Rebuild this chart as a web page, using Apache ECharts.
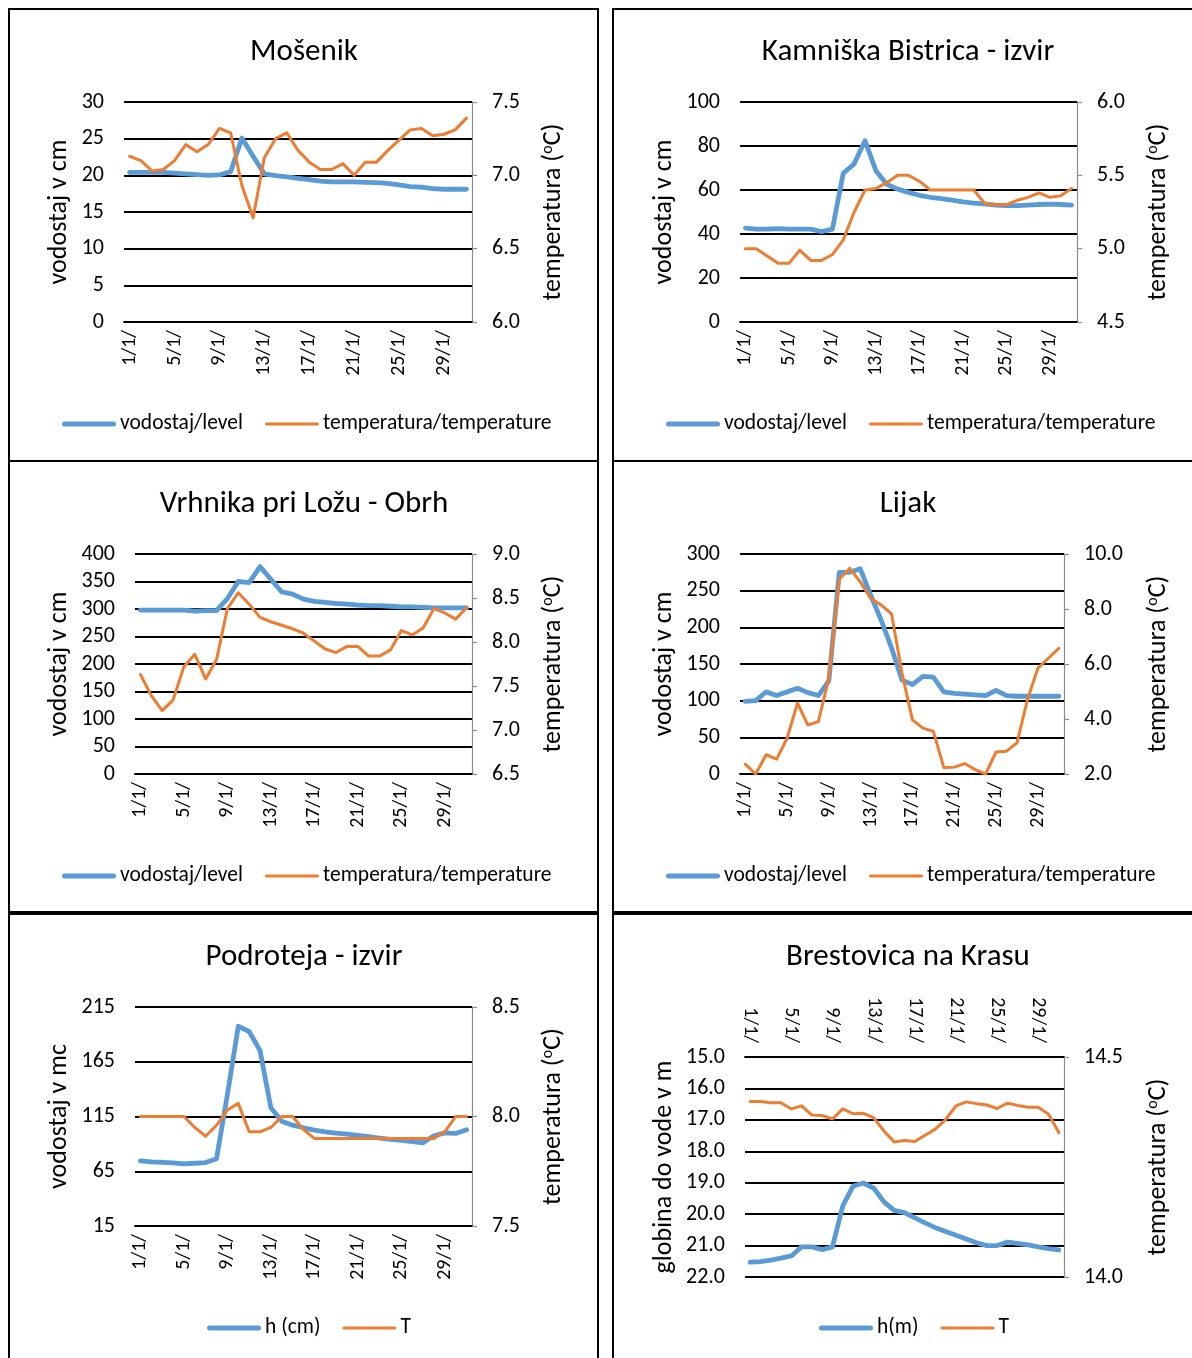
<!DOCTYPE html>
<html>
<head>
<meta charset="utf-8">
<script src="https://cdn.jsdelivr.net/npm/echarts@6/dist/echarts.min.js"></script>
<style>
  html, body { margin: 0; padding: 0; background: #fff; }
  #chart { width: 1192px; height: 1358px; }
</style>
</head>
<body>
<div id="chart"></div>
<script>
// Days of January (category axis)
const days = ['1/1/','2/1/','3/1/','4/1/','5/1/','6/1/','7/1/','8/1/','9/1/','10/1/',
  '11/1/','12/1/','13/1/','14/1/','15/1/','16/1/','17/1/','18/1/','19/1/','20/1/',
  '21/1/','22/1/','23/1/','24/1/','25/1/','26/1/','27/1/','28/1/','29/1/','30/1/','31/1/'];

// Mošenik
const mosenikLevel = [20.4,20.4,20.4,20.4,20.3,20.2,20.1,20.0,20.05,20.5,25.1,22.6,20.2,19.95,19.8,19.6,19.4,19.2,19.1,19.1,19.1,19.05,19.0,18.9,18.7,18.45,18.4,18.2,18.1,18.1,18.1];
const mosenikTemp = [7.13,7.10,7.03,7.04,7.10,7.21,7.16,7.21,7.32,7.29,6.93,6.71,7.12,7.25,7.29,7.17,7.09,7.04,7.04,7.08,7.00,7.09,7.09,7.17,7.24,7.31,7.32,7.27,7.28,7.31,7.39];

// Kamniška Bistrica - izvir
const kamnikLevel = [42.7,42.2,42.2,42.4,42.2,42.2,42.2,41.1,42.2,67.6,71.9,82.4,68.8,62.6,60.4,58.9,57.6,56.7,56.1,55.4,54.6,54.0,53.7,53.1,52.9,52.9,53.1,53.4,53.6,53.4,53.1];
const kamnikTemp = [5.00,5.00,4.95,4.90,4.90,4.99,4.92,4.92,4.96,5.06,5.25,5.40,5.41,5.45,5.50,5.50,5.46,5.40,5.40,5.40,5.40,5.40,5.31,5.30,5.30,5.33,5.35,5.38,5.35,5.36,5.41];

// Vrhnika pri Ložu - Obrh
const obrhLevel = [298,298,298,298,298,296,297,297,319,350,348,377,354,331,327,318,314,312,310,309,307,306,306,305,304,304,303,302,302,302,302];
const obrhTemp = [7.63,7.39,7.22,7.34,7.72,7.86,7.58,7.80,8.38,8.56,8.43,8.28,8.23,8.19,8.15,8.10,8.01,7.92,7.88,7.95,7.95,7.84,7.84,7.91,8.13,8.08,8.16,8.38,8.33,8.26,8.39];

// Lijak
const lijakLevel = [99,100,112,107,112,117,111,107,127,275,275,280,244,210,172,128,122,133,132,112,110,109,108,107,114,107,106,106,106,106,106];
const lijakTemp = [2.36,2.0,2.70,2.54,3.29,4.58,3.78,3.91,5.48,9.08,9.48,8.99,8.38,8.15,7.82,5.67,3.97,3.67,3.55,2.23,2.25,2.38,2.16,2.0,2.80,2.83,3.13,4.70,5.85,6.21,6.57];

// Podroteja - izvir
const podrotejaLevel = [74.4,73.5,73.2,72.6,71.7,72.3,72.9,76.5,135,197.4,192.6,175.3,122.9,110.7,107.1,104.7,102.6,101,99.8,98.9,97.7,96.5,95.3,94.1,93.2,92,91,97.4,100.1,99.5,102.9];
const podrotejaTemp = [8.0,8.0,8.0,8.0,8.0,7.95,7.91,7.96,8.03,8.06,7.93,7.93,7.95,8.0,8.0,7.94,7.90,7.90,7.90,7.90,7.90,7.90,7.90,7.90,7.90,7.90,7.90,7.90,7.93,8.0,8.0];

// Brestovica na Krasu (depth to water, m)
const brestovicaDepth = [21.53,21.51,21.46,21.40,21.33,21.04,21.04,21.13,21.04,19.74,19.11,19.01,19.17,19.61,19.88,19.95,20.12,20.28,20.43,20.55,20.67,20.79,20.91,21.00,21.00,20.89,20.93,20.98,21.04,21.10,21.14];
const brestovicaTemp = [14.399,14.399,14.396,14.396,14.382,14.389,14.368,14.367,14.359,14.382,14.371,14.372,14.362,14.332,14.307,14.310,14.308,14.322,14.336,14.358,14.389,14.398,14.394,14.391,14.383,14.395,14.390,14.386,14.386,14.370,14.328];

const FONT = 'Carlito, Calibri, Lato, sans-serif';
const BLUE = '#5B9BD5';
const ORANGE = '#ED7D31';

// Legend samples: plain rounded strokes, thick for level, thinner for temperature
const ICON_THICK = 'path://M2.5,0 L51.5,0 A2.5,2.5 0 0 1 51.5,5 L2.5,5 A2.5,2.5 0 0 1 2.5,0 Z';
const ICON_THIN = 'path://M1.5,0 L52.5,0 A1.5,1.5 0 0 1 52.5,3 L1.5,3 A1.5,1.5 0 0 1 1.5,0 Z';

const panels = [
  { title: 'Mošenik', cx: 304, ty: 37, grid: {left: 124, top: 102, width: 348, height: 220},
    left: {min: 0, max: 30, interval: 5, dec: 0, name: 'vodostaj v cm', gap: 52},
    right: {min: 6.0, max: 7.5, interval: 0.5, gap: 68},
    level: mosenikLevel, temp: mosenikTemp, names: ['vodostaj/level', 'temperatura/temperature'],
    legend: {left: 62, top: 413} },
  { title: 'Kamniška Bistrica - izvir', cx: 908, ty: 37, grid: {left: 740, top: 102, width: 337, height: 220},
    left: {min: 0, max: 100, interval: 20, dec: 0, name: 'vodostaj v cm', gap: 63},
    right: {min: 4.5, max: 6.0, interval: 0.5, gap: 68},
    level: kamnikLevel, temp: kamnikTemp, names: ['vodostaj/level', 'temperatura/temperature'],
    legend: {left: 666, top: 413} },
  { title: 'Vrhnika pri Ložu - Obrh', cx: 304, ty: 489, grid: {left: 135, top: 554, width: 337, height: 220},
    left: {min: 0, max: 400, interval: 50, dec: 0, name: 'vodostaj v cm', gap: 63},
    right: {min: 6.5, max: 9.0, interval: 0.5, gap: 68},
    level: obrhLevel, temp: obrhTemp, names: ['vodostaj/level', 'temperatura/temperature'],
    legend: {left: 62, top: 865} },
  { title: 'Lijak', cx: 908, ty: 489, grid: {left: 740, top: 554, width: 324, height: 220},
    left: {min: 0, max: 300, interval: 50, dec: 0, name: 'vodostaj v cm', gap: 63},
    right: {min: 2, max: 10, interval: 2, gap: 81},
    level: lijakLevel, temp: lijakTemp, names: ['vodostaj/level', 'temperatura/temperature'],
    legend: {left: 666, top: 865} },
  { title: 'Podroteja - izvir', cx: 304, ty: 942, grid: {left: 135, top: 1007, width: 337, height: 219},
    left: {min: 15, max: 215, interval: 50, dec: 0, name: 'vodostaj v mc', gap: 63},
    right: {min: 7.5, max: 8.5, interval: 0.5, gap: 68},
    level: podrotejaLevel, temp: podrotejaTemp, names: ['h (cm)', 'T'],
    legend: {left: 207, top: 1317} },
  { title: 'Brestovica na Krasu', cx: 908, ty: 942, grid: {left: 745, top: 1057, width: 319, height: 220},
    left: {min: 15, max: 22, interval: 1, dec: 1, name: 'globina do vode v m', gap: 68, inverse: true},
    right: {min: 14.0, max: 14.5, interval: 0.5, gap: 81},
    level: brestovicaDepth, temp: brestovicaTemp, names: ['h(m)', 'T'],
    legend: {left: 819, top: 1317}, xTop: true }
];

const option = {
  animation: false,
  backgroundColor: '#fff',
  textStyle: { fontFamily: FONT, color: '#000' },
  title: [], legend: [], grid: [], xAxis: [], yAxis: [], series: [],
  graphic: []
};

panels.forEach((p, i) => {
  option.title.push({
    text: p.title, left: p.cx, top: p.ty, textAlign: 'center', padding: 0,
    textStyle: { fontFamily: FONT, fontSize: 31, fontWeight: 'normal', color: '#000' }
  });
  option.grid.push(Object.assign({ containLabel: false }, p.grid));
  option.xAxis.push({
    type: 'category', gridIndex: i, data: days, boundaryGap: true,
    position: p.xTop ? 'top' : 'bottom',
    axisLine: { onZero: false, lineStyle: { color: '#000', width: 1.8 } },
    axisTick: { interval: 3, length: 7, lineStyle: { color: '#000', width: 1.5 } },
    axisLabel: { interval: 3, rotate: 90, fontSize: 20, margin: p.xTop ? 14 : 8,
      color: '#000', fontFamily: FONT },
    splitLine: { show: false }
  });
  option.yAxis.push({
    type: 'value', gridIndex: i, position: 'left',
    min: p.left.min, max: p.left.max, interval: p.left.interval, inverse: !!p.left.inverse,
    name: p.left.name, nameLocation: 'middle', nameGap: p.left.gap, nameRotate: 90,
    nameTextStyle: { fontSize: 26, color: '#000', fontFamily: FONT },
    axisLine: { show: false }, axisTick: { show: false },
    axisLabel: { fontSize: 22, margin: 20, color: '#000', fontFamily: FONT,
      formatter: v => v.toFixed(p.left.dec) },
    splitLine: { show: true, lineStyle: { color: '#000', width: 1.8 } }
  });
  option.yAxis.push({
    type: 'value', gridIndex: i, position: 'right',
    min: p.right.min, max: p.right.max, interval: p.right.interval,
    name: 'temperatura ({s|o}C)', nameLocation: 'middle', nameGap: p.right.gap, nameRotate: 90,
    nameTextStyle: { fontSize: 26, color: '#000', fontFamily: FONT,
      rich: { s: { fontSize: 16, verticalAlign: 'top', color: '#000', fontFamily: FONT } } },
    axisLine: { show: true, lineStyle: { color: '#8c8c8c', width: 1.2 } },
    axisTick: { show: true, length: 5, lineStyle: { color: '#8c8c8c', width: 1.2 } },
    axisLabel: { fontSize: 22, margin: 20, color: '#000', fontFamily: FONT,
      formatter: v => v.toFixed(1) },
    splitLine: { show: false }
  });
  option.series.push({
    type: 'line', name: p.names[0], xAxisIndex: i, yAxisIndex: 2 * i,
    data: p.level, symbol: 'none', smooth: false,
    lineStyle: { color: BLUE, width: 4.8, cap: 'round', join: 'round' },
    itemStyle: { color: BLUE }
  });
  option.series.push({
    type: 'line', name: p.names[1], xAxisIndex: i, yAxisIndex: 2 * i + 1,
    data: p.temp, symbol: 'none', smooth: false,
    lineStyle: { color: ORANGE, width: 3, cap: 'round', join: 'round' },
    itemStyle: { color: ORANGE }
  });
  option.legend.push({
    data: [
      { name: p.names[0], icon: ICON_THICK, itemStyle: { color: BLUE } },
      { name: p.names[1], icon: ICON_THIN, itemStyle: { color: ORANGE } }
    ],
    left: p.legend.left, top: p.legend.top, padding: 0,
    itemWidth: 54, itemHeight: 22, itemGap: 22, symbolKeepAspect: true,
    textStyle: { fontSize: 21.5, color: '#000', fontFamily: FONT, padding: [0, 0, 0, -1] }
  });
});

// Panel frames
const frames = [
  [9, 9, 589, 452], [613, 9, 600, 452],
  [9, 461, 589, 451], [613, 461, 600, 451],
  [9, 914, 589, 460], [613, 914, 600, 460]
];
frames.forEach(f => {
  option.graphic.push({
    type: 'rect', silent: true, z: 100,
    shape: { x: f[0], y: f[1], width: f[2], height: f[3] },
    style: { fill: 'none', stroke: '#000', lineWidth: 2 }
  });
});

const chart = echarts.init(document.getElementById('chart'), null, { renderer: 'canvas' });
chart.setOption(option);
</script>
</body>
</html>
